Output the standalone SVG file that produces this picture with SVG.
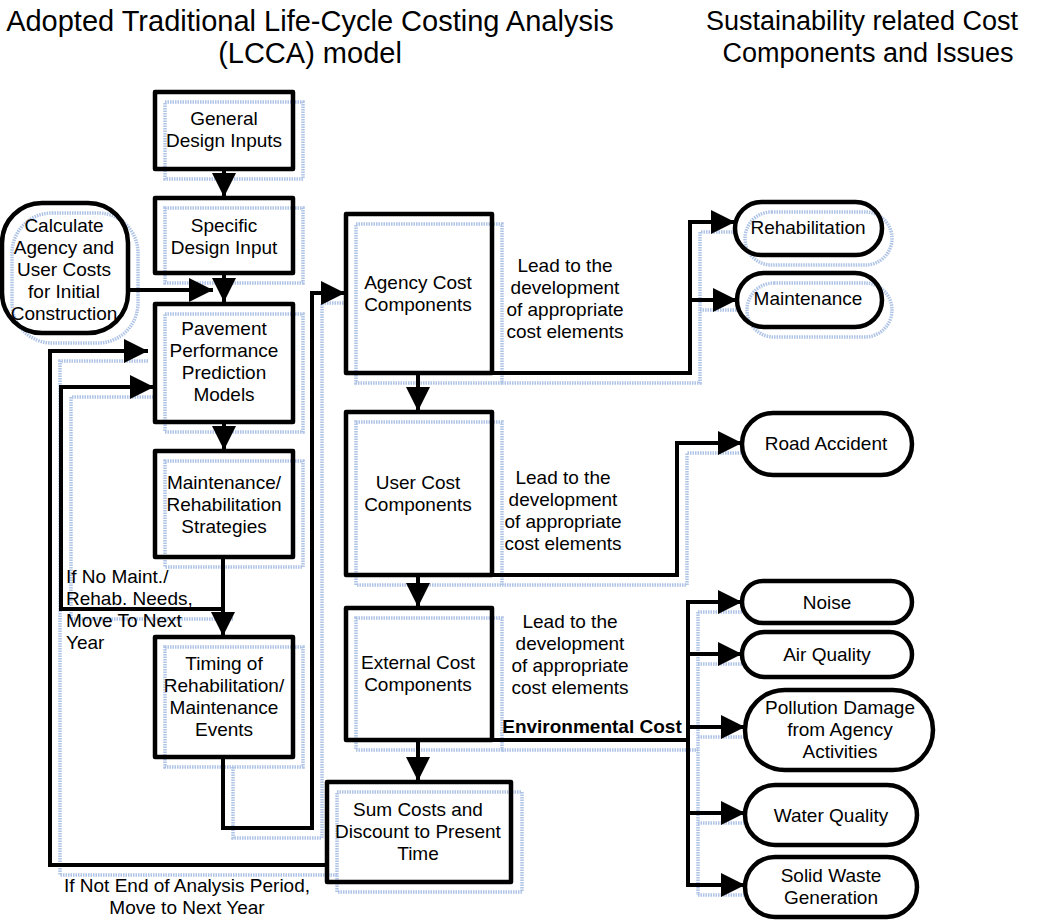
<svg xmlns="http://www.w3.org/2000/svg" width="1040" height="922" viewBox="0 0 1040 922">
<style>
  text { font-family: "Liberation Sans", Arial, sans-serif; fill: #000; }
  .title { font-size: 27px; text-anchor: middle; }
  .big { font-size: 29px; }
  .nt { font-size: 19px; text-anchor: middle; }
  .lbl { font-size: 19px; }
  .bold { font-size: 19px; font-weight: bold; text-anchor: middle; }
  .box { fill: none; stroke: #000; stroke-width: 4.5; stroke-linejoin: round; }
  .oval { fill: none; stroke: #000; stroke-width: 4.5; }
  .conn { fill: none; stroke: #000; stroke-width: 4; stroke-linejoin: miter; }
  .arr { marker-end: url(#ah); }
  .sh { fill: none; stroke: #aec3e6; stroke-width: 3.5; stroke-dasharray: 1.5 1; }
</style>
<defs>
  <marker id="ah" markerUnits="userSpaceOnUse" markerWidth="26" markerHeight="26" viewBox="0 0 26 26" refX="24" refY="13" orient="auto">
    <path d="M0,1 L24,13 L0,25 Z" fill="#000"/>
  </marker>
</defs>

<g id="shadows">
  <rect class="sh" x="165" y="102" width="138" height="77"/>
  <rect class="sh" x="165" y="208" width="138" height="75"/>
  <rect class="sh" x="12" y="213" width="126" height="130" rx="40" ry="40"/>
  <rect class="sh" x="165" y="314" width="138" height="118"/>
  <rect class="sh" x="165" y="461" width="138" height="106"/>
  <rect class="sh" x="165" y="647" width="138" height="120"/>
  <rect class="sh" x="356" y="224" width="146" height="159"/>
  <rect class="sh" x="356" y="422" width="146" height="163"/>
  <rect class="sh" x="356" y="618" width="146" height="132"/>
  <rect class="sh" x="337" y="792" width="185" height="100"/>
  <rect class="sh" x="745" y="212" width="147" height="53" rx="26.5" ry="26.5"/>
  <rect class="sh" x="747" y="283" width="145" height="54" rx="27" ry="27"/>
  <path class="sh" d="M233,767 L233,838 L322,838 L322,303 L345,303"/>
  <path class="sh" d="M233,619 L71,619 L71,397 L154,397"/>
  <path class="sh" d="M337,875 L60,875 L60,361 L148,361"/>
  <path class="sh" d="M502,383 L700,383 L700,232 L735,232 M700,310 L737,310"/>
  <path class="sh" d="M502,585 L687,585 L687,453 L742,453"/>
  <path class="sh" d="M502,750 L698,750 M698,612 L698,895 M698,612 L742,612 M698,664 L742,664 M698,737 L745,737 M698,823 L745,823 M698,895 L745,895"/>
</g>

<g id="connectors">
  <path class="conn arr" d="M224,169 L224,197"/>
  <path class="conn arr" d="M224,273 L224,302"/>
  <path class="conn arr" d="M128,290 L213,290"/>
  <path class="conn arr" d="M224,422 L224,450"/>
  <path class="conn arr" d="M223,557 L223,636"/>
  <path class="conn arr" d="M223,609 L61,609 L61,387 L154,387"/>
  <path class="conn arr" d="M223,757 L223,828 L312,828 L312,293 L345,293"/>
  <path class="conn arr" d="M327,865 L50,865 L50,351 L148,351"/>
  <path class="conn arr" d="M418,373 L418,411"/>
  <path class="conn arr" d="M418,575 L418,607"/>
  <path class="conn arr" d="M418,740 L418,781"/>
  <path class="conn arr" d="M492,373 L690,373 L690,222 L735,222"/>
  <path class="conn arr" d="M690,300 L737,300"/>
  <path class="conn arr" d="M492,575 L677,575 L677,443 L742,443"/>
  <path class="conn" d="M492,740 L688,740"/>
  <path class="conn" d="M688,602 L688,885"/>
  <path class="conn arr" d="M686,602 L742,602"/>
  <path class="conn arr" d="M688,654 L742,654"/>
  <path class="conn arr" d="M688,727 L745,727"/>
  <path class="conn arr" d="M688,813 L745,813"/>
  <path class="conn arr" d="M686,885 L745,885"/>
</g>

<g id="titles">
  <text class="title big" x="310" y="31">Adopted Traditional Life-Cycle Costing Analysis</text>
  <text class="title big" x="310" y="63">(LCCA) model</text>
  <text class="title" x="862" y="30">Sustainability related Cost</text>
  <text class="title" x="868" y="62">Components and Issues</text>
</g>

<g id="general-design-inputs">
  <rect class="box" x="155" y="92" width="138" height="77"/>
  <text class="nt" x="224" y="125">General</text>
  <text class="nt" x="224" y="147">Design Inputs</text>
</g>
<g id="specific-design-input">
  <rect class="box" x="155" y="198" width="138" height="75"/>
  <text class="nt" x="224" y="232">Specific</text>
  <text class="nt" x="224" y="254">Design Input</text>
</g>
<g id="calculate-costs">
  <rect class="oval" x="2" y="203" width="126" height="130" rx="40" ry="40"/>
  <text class="nt" x="64" y="232">Calculate</text>
  <text class="nt" x="64" y="254">Agency and</text>
  <text class="nt" x="64" y="276">User Costs</text>
  <text class="nt" x="64" y="298">for Initial</text>
  <text class="nt" x="64" y="320">Construction</text>
</g>
<g id="pavement-performance">
  <rect class="box" x="155" y="304" width="138" height="118"/>
  <text class="nt" x="224" y="335">Pavement</text>
  <text class="nt" x="224" y="357">Performance</text>
  <text class="nt" x="224" y="379">Prediction</text>
  <text class="nt" x="224" y="401">Models</text>
</g>
<g id="maintenance-strategies">
  <rect class="box" x="155" y="451" width="138" height="106"/>
  <text class="nt" x="224" y="489">Maintenance/</text>
  <text class="nt" x="224" y="511">Rehabilitation</text>
  <text class="nt" x="224" y="533">Strategies</text>
</g>
<g id="timing-events">
  <rect class="box" x="155" y="637" width="138" height="120"/>
  <text class="nt" x="224" y="670">Timing of</text>
  <text class="nt" x="224" y="692">Rehabilitation/</text>
  <text class="nt" x="224" y="714">Maintenance</text>
  <text class="nt" x="224" y="736">Events</text>
</g>
<g id="label-no-maint">
  <text class="lbl" x="66" y="583">If No Maint./</text>
  <text class="lbl" x="66" y="605">Rehab. Needs,</text>
  <text class="lbl" x="66" y="627">Move To Next</text>
  <text class="lbl" x="66" y="649">Year</text>
</g>
<g id="label-end-period">
  <text class="nt" x="187" y="892">If Not End of Analysis Period,</text>
  <text class="nt" x="187" y="914">Move to Next Year</text>
</g>
<g id="agency-cost">
  <rect class="box" x="346" y="214" width="146" height="159"/>
  <text class="nt" x="418" y="289">Agency Cost</text>
  <text class="nt" x="418" y="311">Components</text>
</g>
<g id="lead-1">
  <text class="nt" x="565" y="272">Lead to the</text>
  <text class="nt" x="565" y="294">development</text>
  <text class="nt" x="565" y="316">of appropriate</text>
  <text class="nt" x="565" y="338">cost elements</text>
</g>
<g id="user-cost">
  <rect class="box" x="346" y="412" width="146" height="163"/>
  <text class="nt" x="418" y="489">User Cost</text>
  <text class="nt" x="418" y="511">Components</text>
</g>
<g id="lead-2">
  <text class="nt" x="563" y="484">Lead to the</text>
  <text class="nt" x="563" y="506">development</text>
  <text class="nt" x="563" y="528">of appropriate</text>
  <text class="nt" x="563" y="550">cost elements</text>
</g>
<g id="external-cost">
  <rect class="box" x="346" y="608" width="146" height="132"/>
  <text class="nt" x="418" y="669">External Cost</text>
  <text class="nt" x="418" y="691">Components</text>
</g>
<g id="lead-3">
  <text class="nt" x="570" y="628">Lead to the</text>
  <text class="nt" x="570" y="650">development</text>
  <text class="nt" x="570" y="672">of appropriate</text>
  <text class="nt" x="570" y="694">cost elements</text>
  <text class="bold" x="592" y="733">Environmental Cost</text>
</g>
<g id="sum-costs">
  <rect class="box" x="327" y="782" width="184" height="100"/>
  <text class="nt" x="418" y="816">Sum Costs and</text>
  <text class="nt" x="418" y="838">Discount to Present</text>
  <text class="nt" x="418" y="860">Time</text>
</g>
<g id="rehabilitation">
  <rect class="oval" x="735" y="202" width="147" height="53" rx="26.5" ry="26.5"/>
  <text class="nt" x="808" y="234">Rehabilitation</text>
</g>
<g id="maintenance">
  <rect class="oval" x="737" y="273" width="145" height="54" rx="27" ry="27"/>
  <text class="nt" x="808" y="305">Maintenance</text>
</g>
<g id="road-accident">
  <rect class="oval" x="742" y="413" width="170" height="62" rx="31" ry="31"/>
  <text class="nt" x="826" y="450">Road Accident</text>
</g>
<g id="noise">
  <rect class="oval" x="742" y="581" width="170" height="42" rx="21" ry="21"/>
  <text class="nt" x="827" y="609">Noise</text>
</g>
<g id="air-quality">
  <rect class="oval" x="742" y="632" width="170" height="45" rx="22.5" ry="22.5"/>
  <text class="nt" x="827" y="661">Air Quality</text>
</g>
<g id="pollution-damage">
  <rect class="oval" x="745" y="690" width="188" height="80" rx="40" ry="40"/>
  <text class="nt" x="840" y="714">Pollution Damage</text>
  <text class="nt" x="840" y="736">from Agency</text>
  <text class="nt" x="840" y="758">Activities</text>
</g>
<g id="water-quality">
  <rect class="oval" x="745" y="785" width="172" height="60" rx="30" ry="30"/>
  <text class="nt" x="831" y="822">Water Quality</text>
</g>
<g id="solid-waste">
  <rect class="oval" x="745" y="857" width="172" height="60" rx="30" ry="30"/>
  <text class="nt" x="831" y="882">Solid Waste</text>
  <text class="nt" x="831" y="904">Generation</text>
</g>
</svg>
